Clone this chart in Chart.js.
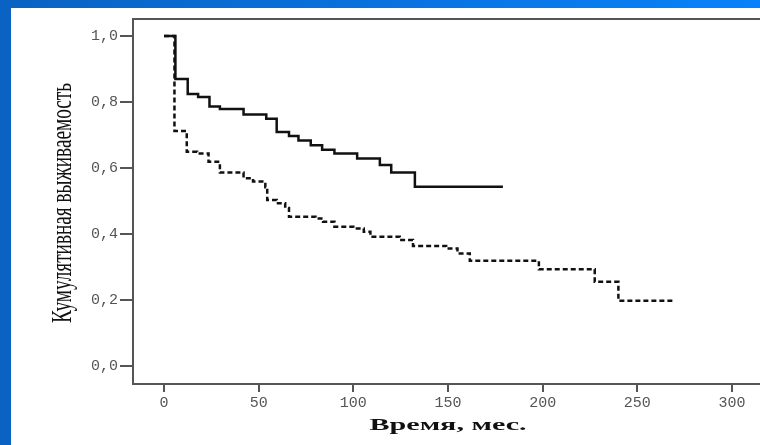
<!DOCTYPE html>
<html>
<head>
<meta charset="utf-8">
<script src="https://cdn.jsdelivr.net/npm/chart.js@4"></script>
<style>
  html, body { margin: 0; padding: 0; background: #fff; }
  #wrap { position: absolute; left: 0; top: 0; width: 760px; height: 445px; background: #fff; }
  #topStrip { position: absolute; left: 0; top: 0; width: 760px; height: 8px;
    background: linear-gradient(to right, #0a62c2, #0882fa); }
  #leftStrip { position: absolute; left: 0; top: 0; width: 11px; height: 445px; background: #0a63c3; }
</style>
</head>
<body>
<div id="wrap"><canvas id="kmChart"></canvas></div>
<div id="topStrip"></div>
<div id="leftStrip"></div>
<script>
// survival curves (time in months, cumulative survival)
const solidTimes = [0, 6, 12.5, 18, 24, 29.5, 42, 54, 59.5, 66, 71, 77.5, 83.5, 90, 102, 114, 120, 132.5, 179];
const solidSurv = [1, 0.870, 0.824, 0.815, 0.786, 0.779, 0.762, 0.749, 0.709, 0.697, 0.683, 0.669, 0.655, 0.644, 0.629, 0.609, 0.586, 0.543, 0.543];

const dashedTimes = [0, 5.5, 12, 17.5, 23.5, 29.5, 42, 47, 53.5, 54.5, 59.5, 64, 66, 80, 84, 90, 100, 105.5, 109, 124.5, 131.5, 149, 155, 161.5, 198, 227.5, 240, 269];
const dashedSurv = [1, 0.712, 0.649, 0.644, 0.619, 0.586, 0.569, 0.559, 0.542, 0.503, 0.493, 0.479, 0.452, 0.447, 0.437, 0.422, 0.417, 0.407, 0.392, 0.382, 0.364, 0.356, 0.341, 0.319, 0.293, 0.255, 0.198, 0.198];

const xTicks = [0, 50, 100, 150, 200, 250, 300];
const yTicks = [0, 0.2, 0.4, 0.6, 0.8, 1.0];

const yTitle = "Кумулятивная выживаемость";
const xTitle = "Время, мес.";

function toPoints(xs, ys) {
  return xs.map((x, i) => ({ x: x, y: ys[i] }));
}

// top frame line + axis titles
const framePlugin = {
  id: "frame",
  afterDraw(chart) {
    const ctx = chart.ctx;
    const a = chart.chartArea;
    ctx.save();
    ctx.strokeStyle = "#555";
    ctx.lineWidth = 2;
    ctx.beginPath();
    ctx.moveTo(a.left, a.top);
    ctx.lineTo(a.right, a.top);
    ctx.stroke();

    ctx.fillStyle = "#111";
    ctx.textAlign = "center";
    ctx.textBaseline = "middle";

    ctx.save();
    ctx.translate(63, 203);
    ctx.rotate(-Math.PI / 2);
    ctx.font = '29px "Liberation Serif"';
    let w = ctx.measureText(yTitle).width;
    ctx.scale(240 / w, 1);
    ctx.fillText(yTitle, 0, 0);
    ctx.restore();

    ctx.save();
    ctx.translate(448, 426);
    ctx.font = 'bold 17px "Liberation Serif"';
    w = ctx.measureText(xTitle).width;
    ctx.scale(157 / w, 1);
    ctx.fillText(xTitle, 0, 0);
    ctx.restore();

    ctx.restore();
  }
};

const ctx = document.getElementById("kmChart").getContext("2d");
const kmChart = new Chart(ctx, {
  type: "line",
  data: {
    datasets: [
      {
        label: "solid",
        data: toPoints(solidTimes, solidSurv),
        stepped: true,
        borderColor: "#111",
        borderWidth: 2.5,
        pointRadius: 0,
        fill: false,
      },
      {
        label: "dashed",
        data: toPoints(dashedTimes, dashedSurv),
        stepped: true,
        borderColor: "#111",
        borderWidth: 2.5,
        borderDash: [5, 3],
        pointRadius: 0,
        fill: false,
      },
    ],
  },
  options: {
    responsive: true,
    maintainAspectRatio: false,
    animation: false,
    layout: { padding: { top: 19, right: 0, bottom: 0, left: 0 } },
    plugins: {
      legend: { display: false },
      tooltip: { enabled: false },
    },
    scales: {
      x: {
        type: "linear",
        min: -16.4,
        max: 314.8,
        afterBuildTicks: (scale) => { scale.ticks = xTicks.map((v) => ({ value: v })); },
        afterFit: (scale) => { scale.height = 61; },
        grid: { drawOnChartArea: false, drawTicks: true, tickLength: 8, color: "#555", lineWidth: 2 },
        border: { display: true, color: "#555", width: 2 },
        ticks: {
          padding: 2,
          color: "#555",
          font: { family: '"Liberation Mono"', size: 15 },
          callback: (v) => String(v),
          maxRotation: 0,
        },
      },
      y: {
        min: -0.0545,
        max: 1.0515,
        afterBuildTicks: (scale) => { scale.ticks = yTicks.map((v) => ({ value: v })); },
        afterFit: (scale) => { scale.width = 133; },
        grid: { drawOnChartArea: false, drawTicks: true, tickLength: 13, color: "#555", lineWidth: 2 },
        border: { display: true, color: "#555", width: 2 },
        ticks: {
          padding: 2,
          color: "#555",
          font: { family: '"Liberation Mono"', size: 15 },
          callback: (v) => v.toFixed(1).replace(".", ","),
        },
      },
    },
  },
  plugins: [framePlugin],
});
</script>
</body>
</html>
